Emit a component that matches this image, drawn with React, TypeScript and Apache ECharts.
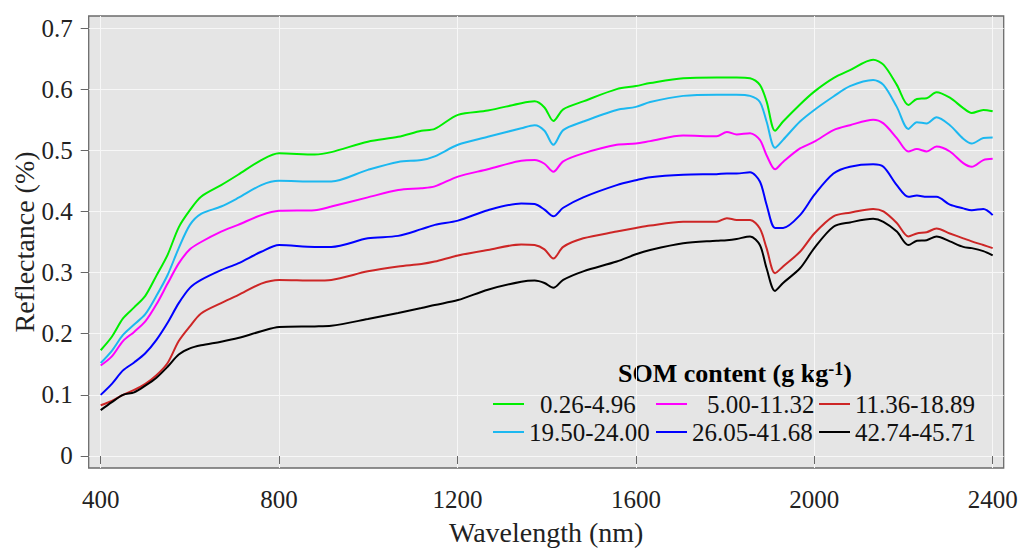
import React, { useEffect, useRef } from "react";
import * as echarts from "echarts";

const wavelengths = [400, 425, 450, 475, 500, 525, 550, 575, 600, 625, 670, 708, 760, 800, 880, 917, 999, 1067, 1119, 1149, 1201, 1268, 1343, 1373, 1395, 1415, 1437, 1482, 1557, 1600, 1632, 1706, 1781, 1804, 1826, 1856, 1878, 1893, 1912, 1930, 1968, 2000, 2043, 2080, 2132, 2155, 2185, 2211, 2230, 2252, 2274, 2304, 2334, 2353, 2379, 2400];

const som0_26 = [0.173, 0.195, 0.225, 0.243, 0.262, 0.295, 0.329, 0.374, 0.402, 0.424, 0.443, 0.46, 0.484, 0.495, 0.493, 0.497, 0.514, 0.522, 0.532, 0.535, 0.558, 0.565, 0.577, 0.58, 0.57, 0.548, 0.567, 0.58, 0.6, 0.605, 0.61, 0.618, 0.619, 0.619, 0.619, 0.618, 0.607, 0.58, 0.532, 0.547, 0.575, 0.596, 0.618, 0.631, 0.648, 0.64, 0.607, 0.574, 0.584, 0.585, 0.595, 0.586, 0.569, 0.561, 0.566, 0.564];
const som5_00 = [0.148, 0.163, 0.188, 0.203, 0.22, 0.248, 0.282, 0.315, 0.338, 0.35, 0.367, 0.378, 0.394, 0.401, 0.402, 0.408, 0.423, 0.435, 0.438, 0.441, 0.457, 0.469, 0.483, 0.484, 0.478, 0.465, 0.482, 0.495, 0.509, 0.511, 0.515, 0.524, 0.523, 0.53, 0.526, 0.528, 0.517, 0.492, 0.469, 0.481, 0.503, 0.514, 0.533, 0.541, 0.55, 0.544, 0.52, 0.498, 0.502, 0.498, 0.506, 0.498, 0.479, 0.473, 0.484, 0.486];
const som11_36 = [0.083, 0.09, 0.1, 0.108, 0.118, 0.132, 0.152, 0.188, 0.212, 0.233, 0.25, 0.263, 0.282, 0.288, 0.287, 0.288, 0.302, 0.31, 0.314, 0.318, 0.328, 0.337, 0.346, 0.345, 0.338, 0.323, 0.342, 0.356, 0.367, 0.373, 0.377, 0.383, 0.383, 0.389, 0.386, 0.386, 0.372, 0.34, 0.299, 0.31, 0.334, 0.364, 0.392, 0.398, 0.404, 0.4, 0.381, 0.359, 0.364, 0.366, 0.372, 0.364, 0.356, 0.351, 0.345, 0.34];
const som19_50 = [0.152, 0.172, 0.198, 0.215, 0.232, 0.262, 0.296, 0.34, 0.378, 0.396, 0.408, 0.422, 0.443, 0.45, 0.449, 0.449, 0.468, 0.481, 0.484, 0.49, 0.509, 0.522, 0.536, 0.541, 0.532, 0.509, 0.533, 0.547, 0.566, 0.571, 0.579, 0.589, 0.591, 0.591, 0.591, 0.589, 0.579, 0.547, 0.504, 0.517, 0.547, 0.566, 0.588, 0.605, 0.615, 0.607, 0.571, 0.535, 0.546, 0.544, 0.554, 0.541, 0.519, 0.511, 0.52, 0.521];
const som26_05 = [0.1, 0.118, 0.14, 0.153, 0.168, 0.19, 0.218, 0.25, 0.275, 0.288, 0.304, 0.315, 0.334, 0.345, 0.342, 0.342, 0.356, 0.36, 0.371, 0.378, 0.385, 0.402, 0.413, 0.412, 0.403, 0.392, 0.406, 0.423, 0.443, 0.451, 0.456, 0.46, 0.461, 0.462, 0.462, 0.464, 0.449, 0.411, 0.373, 0.373, 0.394, 0.427, 0.462, 0.473, 0.477, 0.473, 0.443, 0.424, 0.426, 0.424, 0.424, 0.411, 0.405, 0.402, 0.404, 0.394];
const som42_74 = [0.075, 0.088, 0.1, 0.104, 0.115, 0.128, 0.146, 0.166, 0.176, 0.181, 0.187, 0.193, 0.204, 0.211, 0.212, 0.213, 0.224, 0.234, 0.242, 0.247, 0.255, 0.272, 0.285, 0.287, 0.283, 0.275, 0.288, 0.302, 0.318, 0.33, 0.337, 0.348, 0.352, 0.353, 0.355, 0.359, 0.345, 0.307, 0.27, 0.283, 0.307, 0.34, 0.375, 0.382, 0.388, 0.383, 0.367, 0.345, 0.352, 0.353, 0.359, 0.351, 0.342, 0.34, 0.335, 0.328];

const legendLabels = ["0.26-4.96", "5.00-11.32", "11.36-18.89", "19.50-24.00", "26.05-41.68", "42.74-45.71"];
const seriesValues = [som0_26, som5_00, som11_36, som19_50, som26_05, som42_74];
const seriesColors = ["#00EE00", "#FF00FF", "#CD2626", "#1CB8F0", "#0000FF", "#000000"];

const xTicks = [400, 800, 1200, 1600, 2000, 2400];
const yTicks = [0, 0.1, 0.2, 0.3, 0.4, 0.5, 0.6, 0.7];

const FONT = "'Liberation Serif', 'Times New Roman', serif";

// legend cell layout: [left, top, text padding]
const legendLayout = [
  [493, 391, 11],
  [656, 391, 15],
  [819, 391, 0],
  [493, 419, 0],
  [656, 419, 0],
  [819, 419, 0],
];

export default function App() {
  const ref = useRef<HTMLDivElement>(null);
  useEffect(() => {
    if (!ref.current) return;
    const chart = echarts.init(ref.current, undefined, { renderer: "svg" });
    const series = legendLabels.map((name, i) => ({
      type: "line",
      name,
      data: wavelengths.map((w, j) => [w, seriesValues[i][j]]),
      showSymbol: false,
      symbol: "none",
      smooth: 0.3,
      lineStyle: { width: 2, color: seriesColors[i] },
      itemStyle: { color: seriesColors[i] },
    }));
    const legends = legendLabels.map((name, i) => ({
      data: [name],
      left: legendLayout[i][0],
      top: legendLayout[i][1],
      padding: 0,
      itemWidth: 31,
      itemHeight: 2,
      icon: "rect",
      selectedMode: false,
      textStyle: {
        fontSize: 25,
        fontFamily: FONT,
        color: "#111",
        lineHeight: 26,
        padding: [0, 0, 0, legendLayout[i][2]],
      },
    }));
    chart.setOption({
      animation: false,
      backgroundColor: "#ffffff",
      grid: {
        left: 88.7,
        right: 16.3,
        top: 16,
        bottom: 80,
        containLabel: false,
        outerBoundsMode: "none",
        show: true,
        backgroundColor: "#E5E5E5",
        borderColor: "#6b6b6b",
        borderWidth: 1.3,
      },
      xAxis: {
        type: "value",
        min: 373.1,
        max: 2424.7,
        name: "Wavelength (nm)",
        nameLocation: "middle",
        nameGap: 50,
        nameMoveOverlap: false,
        nameTextStyle: { fontSize: 28, fontFamily: FONT, color: "#222" },
        axisLine: { show: false },
        axisTick: { show: true, length: 8, lineStyle: { color: "#666", width: 1 }, customValues: xTicks },
        axisLabel: { customValues: xTicks, margin: 19, fontSize: 25, fontFamily: FONT, color: "#222", formatter: (v: number) => String(v) },
        splitLine: { show: true, lineStyle: { color: "#F7F7F7", width: 1 }, customValues: xTicks },
      },
      yAxis: {
        type: "value",
        min: -0.01963,
        max: 0.71963,
        name: "Reflectance (%)",
        nameLocation: "middle",
        nameGap: 50,
        nameMoveOverlap: false,
        nameTextStyle: { fontSize: 28, fontFamily: FONT, color: "#222" },
        axisLine: { show: false },
        axisTick: { show: true, length: 8, lineStyle: { color: "#666", width: 1 }, customValues: yTicks },
        axisLabel: { customValues: yTicks, margin: 16, fontSize: 25, fontFamily: FONT, color: "#222", formatter: (v: number) => String(v) },
        splitLine: { show: true, lineStyle: { color: "#F7F7F7", width: 1 }, customValues: yTicks },
      },
      legend: legends,
      graphic: [
        {
          type: "text",
          x: 618,
          y: 373,
          style: {
            text: "{b|SOM content (g kg}{s|-1}{b|)}",
            align: "left",
            verticalAlign: "middle",
            fill: "#000",
            rich: {
              b: { fontSize: 26, fontWeight: "bold", fontFamily: FONT, lineHeight: 26, fill: "#000" },
              s: { fontSize: 18, fontWeight: "bold", fontFamily: FONT, lineHeight: 18, verticalAlign: "top", fill: "#000" },
            },
          },
        },
      ],
      series,
    });
    return () => chart.dispose();
  }, []);
  return (
    <div
      ref={ref}
      style={{ position: "absolute", left: 0, top: 0, width: 1020, height: 548 }}
    />
  );
}
